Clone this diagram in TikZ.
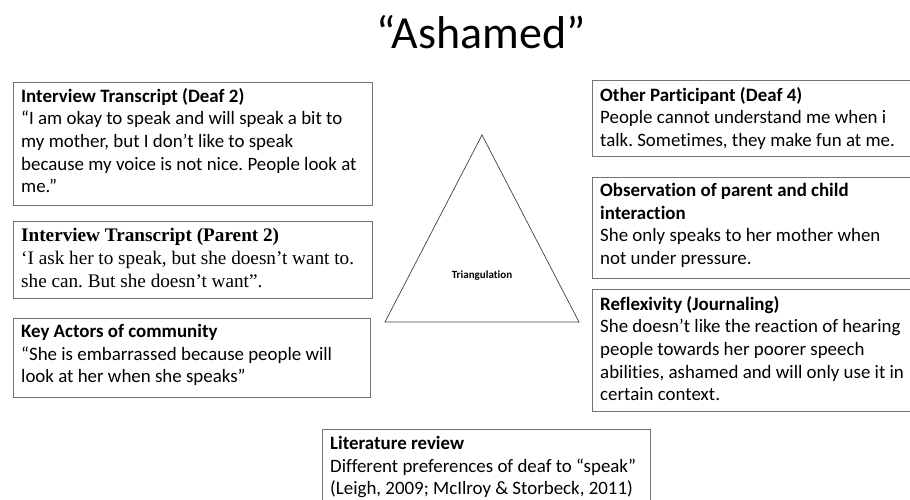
\documentclass[tikz,border=0pt]{standalone}
\usepackage{fontspec}
\setmainfont[Ligatures=NoCommon]{Carlito}
\newfontfamily\timesfont{Liberation Serif}
\frenchspacing
\begin{document}
\begin{tikzpicture}[x=1pt,y=-1pt,
  card/.style={draw=black!55, line width=1pt, fill=white},
  cardtext/.style={anchor=north west, inner sep=0pt, align=left,
    font=\fontsize{18.9}{22.6}\selectfont},
  serifcardtext/.style={anchor=north west, inner sep=0pt, align=left,
    font=\timesfont\fontsize{19.2}{23}\selectfont},
  tri/.style={draw=black!75, line width=0.7pt}]
\useasboundingbox (0,0) rectangle (910,499);

% heading
\node[font=\fontsize{46}{50}\selectfont] (title) at (481,32) {“Ashamed”};

% left column of evidence cards
\draw[card] (13,82) rectangle (372,205);
\node[cardtext] (deaf) at (21,88) {\textbf{Interview Transcript (Deaf 2)}\\
“I am okay to speak and will speak a bit to\\
my mother, but I don’t like to speak\\
because my voice is not nice. People look at\\
me.”};

\draw[card] (13,221) rectangle (372,298);
\node[serifcardtext] (parent) at (21,228) {\textbf{Interview Transcript (Parent 2)}\\
‘I ask her to speak, but she doesn’t want to.\\
she can. But she doesn’t want”.};

\draw[card] (13,318) rectangle (370,397);
\node[cardtext] (actors) at (21,324) {\textbf{Key Actors of community}\\
“She is embarrassed because people will\\
look at her when she speaks”};

% triangle in the middle
\coordinate (apex) at (482,135);
\coordinate (bl) at (385,322);
\coordinate (br) at (579,322);
\draw[tri] (apex) -- (bl) -- (br) -- cycle;
\node[font=\bfseries\fontsize{11}{13}\selectfont] (tlabel) at (482,276) {Triangulation};

% right column of evidence cards
\draw[card] (592,80) rectangle (920,156);
\node[cardtext] (other) at (600,87) {\textbf{Other Participant (Deaf 4)}\\
People cannot understand me when i\\
talk. Sometimes, they make fun at me.};

\draw[card] (592,177) rectangle (920,278);
\node[cardtext] (obs) at (600,183) {\textbf{Observation of parent and child}\\
\textbf{interaction}\\
She only speaks to her mother when\\
not under pressure.};

\draw[card] (592,289) rectangle (920,411);
\node[cardtext] (refl) at (600,296) {\textbf{Reflexivity (Journaling)}\\
She doesn’t like the reaction of hearing\\
people towards her poorer speech\\
abilities, ashamed and will only use it in\\
certain context.};

% bottom card
\draw[card] (322,429) rectangle (650,510);
\node[cardtext] (lit) at (330,436) {\textbf{Literature review}\\
Different preferences of deaf to “speak”\\
(Leigh, 2009; McIlroy \& Storbeck, 2011)};
\end{tikzpicture}
\end{document}
